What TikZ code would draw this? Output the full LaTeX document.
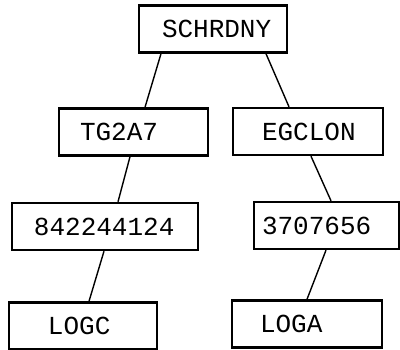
\documentclass[tikz,border=0pt]{standalone}
\usepackage{fontspec}
\setmonofont{Liberation Mono}
\usepackage{tikz}
\usetikzlibrary{positioning}

\begin{document}
\begin{tikzpicture}[x=1pt, y=-1pt,
    % #1 = text width, #2 = left gap inside the box
    box/.style 2 args={draw, line width=2.4pt, minimum height=47pt,
      inner xsep=#2, inner ysep=0pt, text width=#1, align=left,
      font=\fontsize{26}{26}\selectfont\ttfamily},
    link/.style={line width=1.4pt}]
        \useasboundingbox (0,0) rectangle (400,349);
        \node[box={102pt}{23pt}] (sch)  at (213,29)    {SCHRDNY};
        \node[box={107pt}{21pt}] (tg)   at (133.5,132) {TG2A7};
        \node[box={92pt}{29pt}]  (eg)   at (308,131.5) {EGCLON};
        \node[box={142pt}{22pt}] (n84)  at (105,226.5) {842244124};
        \node[box={129pt}{8pt}]  (n37)  at (326.5,225.5) {3707656};
        \node[box={70pt}{39pt}]  (logc) at (83,326)    {LOGC};
        \node[box={94pt}{28pt}]  (loga) at (307,324)   {LOGA};
        \draw[link] ([xshift=-52pt]sch.south) -- ([xshift=11.5pt]tg.north);
        \draw[link] ([xshift=53pt]sch.south)  -- ([xshift=-19pt]eg.north);
        \draw[link] ([xshift=-3.5pt]tg.south) -- ([xshift=13pt]n84.north);
        \draw[link] ([xshift=3pt]eg.south)    -- ([xshift=4.5pt]n37.north);
        \draw[link] ([xshift=-1pt]n84.south)  -- ([xshift=6pt]logc.north);
        \draw[link] ([xshift=-0.5pt]n37.south) -- (loga.north);
\end{tikzpicture}
\end{document}
